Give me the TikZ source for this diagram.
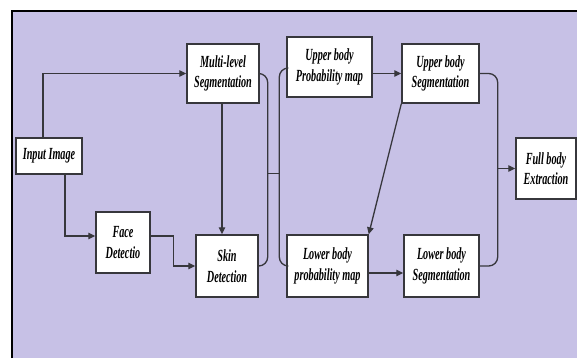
\documentclass[tikz,border=0pt]{standalone}
\usepackage{fontspec}
\newfontfamily\boxfont{Liberation Serif}[FakeStretch=0.6]
\usetikzlibrary{arrows.meta}
\definecolor{bgpurple}{RGB}{199,193,230}
\definecolor{linegray}{RGB}{55,55,60}
\begin{document}
\begin{tikzpicture}[x=1pt,y=-1pt,
  blk/.style={draw=linegray,line width=1.4pt,fill=white,align=center,inner sep=0pt,
    font=\boxfont\bfseries\itshape\fontsize{17}{20.5}\selectfont},
  conn/.style={draw=linegray,line width=1.3pt},
  arr/.style={conn,-{Triangle[length=7pt,width=6.5pt]}},
  brk/.style={conn,rounded corners=9pt}]
\useasboundingbox (0,0) rectangle (577,358);
\fill[bgpurple] (12,11) rectangle (577,358);
\draw[line width=2pt,black] (12,358) -- (12,11) -- (577,11);
% nodes
\node[blk,minimum width=66pt,minimum height=36pt] (in) at (49,156) {Input Image};
\node[blk,minimum width=72pt,minimum height=59pt] (ml) at (223,73.5) {Multi-level\\Segmentation};
\node[blk,minimum width=54pt,minimum height=61pt] (fd) at (123,242.5) {Face\\Detectio};
\node[blk,minimum width=62pt,minimum height=62pt] (sk) at (227,266) {Skin\\Detection};
\node[blk,minimum width=85pt,minimum height=60pt] (up) at (329.5,67) {Upper body\\Probability map};
\node[blk,minimum width=77pt,minimum height=59pt] (us) at (440.5,73.5) {Upper body\\Segmentation};
\node[blk,minimum width=81pt,minimum height=62pt] (lp) at (327.5,266) {Lower body\\probability map};
\node[blk,minimum width=75pt,minimum height=62pt] (ls) at (441.5,266) {Lower body\\Segmentation};
\node[blk,minimum width=60pt,minimum height=61pt] (fb) at (546,168.5) {Full body\\Extraction};
% connectors
\draw[arr] ([xshift=-6pt]in.north) |- (ml.west);
\draw[arr] ([xshift=16pt]in.south) |- ([yshift=6.5pt]fd.west);
\draw[arr] ([yshift=6.5pt]fd.east) -- ++(23,0) |- (sk.west);
\draw[arr] ([xshift=-1pt]ml.south) -- ([xshift=-1pt]ml.south |- sk.north);
\draw[brk] (ml.east) -- ++(8,0) coordinate (lb1) -- (lb1 |- sk.east) -- (sk.east);
\draw[brk] ([yshift=-1pt]up.west) -- ++(-7,0) coordinate (rb1) -- (rb1 |- lp.west) -- (lp.west);
\coordinate (mid) at (lb1 |- in.south);
\draw[conn] ([yshift=1pt]mid) -- ([yshift=1pt]mid -| rb1);
\draw[arr] (up.east |- us.west) -- (us.west);
\draw[arr] (us.south west) -- (lp.north east);
\draw[arr] ([yshift=-7pt]lp.east) -- ([yshift=-7pt]lp.east -| ls.west);
\draw[brk] (us.east) -- ++(18,0) coordinate (fb1) -- (fb1 |- ls.east) -- (ls.east);
\draw[arr] (fb1 |- fb.west) -- (fb.west);
\end{tikzpicture}
\end{document}
